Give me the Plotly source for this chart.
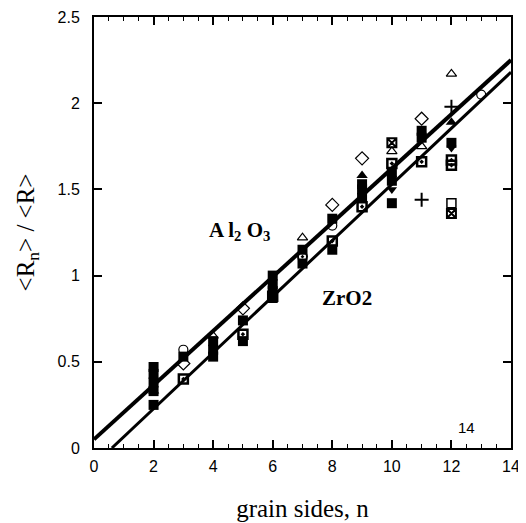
import plotly.graph_objects as go

# fitted lines (end points)
al_line_x = [0, 14]
al_line_y = [0.05, 2.25]
zr_line_x = [0.6, 14]
zr_line_y = [0.0, 2.18]

# data points grouped by marker style
filled_sq_x = [2, 2, 2, 2, 2, 3, 4, 4, 4, 5, 5, 6, 6, 6, 6, 7, 7, 8, 8, 9, 9, 9, 10, 10, 10, 11, 11, 12]
filled_sq_y = [0.25, 0.33, 0.38, 0.43, 0.47, 0.53, 0.53, 0.57, 0.62, 0.62, 0.74, 0.87, 0.91, 0.95, 1.0,
               1.07, 1.15, 1.15, 1.33, 1.45, 1.50, 1.53, 1.42, 1.55, 1.60, 1.80, 1.84, 1.77]
dot_sq_x = [3, 5, 8, 9, 10, 11, 12, 12, 6]
dot_sq_y = [0.40, 0.66, 1.20, 1.40, 1.65, 1.66, 1.64, 1.67, 0.88]
dot_circ_x = [7]
dot_circ_y = [1.11]
open_circ_x = [3, 8, 13]
open_circ_y = [0.57, 1.29, 2.05]
diamond_x = [3, 5, 8, 9, 11]
diamond_y = [0.49, 0.81, 1.41, 1.68, 1.91]
tri_open_x = [4, 7, 10, 11, 12]
tri_open_y = [0.65, 1.22, 1.72, 1.75, 2.17]
tri_fill_x = [2, 9, 12]
tri_fill_y = [0.33, 1.58, 1.89]
plus_x = [11, 12]
plus_y = [1.44, 1.98]
open_sq_x = [12]
open_sq_y = [1.42]
grid_sq_x = [10, 12]
grid_sq_y = [1.77, 1.36]
tri_down_x = [10, 12]
tri_down_y = [1.50, 1.74]

x_ticks = [0, 2, 4, 6, 8, 10, 12, 14]
y_ticks = [0, 0.5, 1, 1.5, 2, 2.5]
y_tick_labels = ["0", "0.5", "1", "1.5", "2", "2.5"]

fig = go.Figure()

fig.add_trace(go.Scatter(x=al_line_x, y=al_line_y, mode="lines",
                         line=dict(color="black", width=4), showlegend=False))
fig.add_trace(go.Scatter(x=zr_line_x, y=zr_line_y, mode="lines",
                         line=dict(color="black", width=3), showlegend=False))

def pts(x, y, symbol, size=9, lw=1.5, color="black"):
    fig.add_trace(go.Scatter(x=x, y=y, mode="markers", showlegend=False,
                             marker=dict(symbol=symbol, size=size, color=color,
                                         line=dict(color="black", width=lw))))

pts(filled_sq_x, filled_sq_y, "square", size=10, lw=0)
pts(dot_sq_x, dot_sq_y, "square-open-dot", size=9, lw=2.5)
pts(dot_circ_x, dot_circ_y, "circle-open-dot", size=9, lw=2)
pts(open_circ_x, open_circ_y, "circle-open", size=9, lw=1.2)
pts(diamond_x, diamond_y, "diamond-open", size=10, lw=1.2)
pts(tri_open_x, tri_open_y, "triangle-up-open", size=9, lw=1.2)
pts(tri_fill_x, tri_fill_y, "triangle-up", size=10, lw=0)
pts(plus_x, plus_y, "cross-thin-open", size=10, lw=2)
pts(open_sq_x, open_sq_y, "square-open", size=9, lw=1.5)
pts(grid_sq_x, grid_sq_y, "square-x-open", size=9, lw=2)
pts(tri_down_x, tri_down_y, "triangle-down", size=9, lw=0)

serif = "Liberation Serif, Times New Roman, serif"
sans = "Liberation Sans, Arial, sans-serif"

fig.add_annotation(x=4.9, y=1.26, text="<b>A l<sub>2</sub> O<sub>3</sub></b>", showarrow=False,
                   font=dict(family=serif, size=21, color="black"))
fig.add_annotation(x=8.5, y=0.87, text="<b>ZrO2</b>", showarrow=False,
                   font=dict(family=serif, size=21, color="black"))
fig.add_annotation(x=12.5, y=0.12, text="14", showarrow=False,
                   font=dict(family=sans, size=15, color="black"))

axis_common = dict(showgrid=False, zeroline=False, showline=True, linecolor="black", linewidth=2,
                   mirror="allticks", ticks="inside", tickcolor="black", tickwidth=1.5,
                   automargin=False,
                   tickfont=dict(family=sans, size=16, color="black"))

fig.update_xaxes(range=[0, 14], tickvals=x_ticks, ticklen=8, ticklabelstandoff=3,
                 minor=dict(dtick=0.5, ticks="inside", ticklen=4, tickcolor="black", tickwidth=1.2),
                 title=dict(text="grain sides, n", font=dict(family=serif, size=25, color="black"),
                            standoff=25),
                 **axis_common)
fig.update_yaxes(range=[0, 2.5], tickvals=y_ticks, ticktext=y_tick_labels, ticklen=8,
                 ticklabelstandoff=9,
                 title=dict(text="&lt;R<sub>n</sub>&gt; / &lt;R&gt;",
                            font=dict(family=serif, size=25, color="black"), standoff=16),
                 **axis_common)

# page body has an 8px margin, so the figure is 8px smaller than the window
fig.update_layout(width=518, height=515, margin=dict(l=86, r=15, t=9, b=75),
                  plot_bgcolor="white", paper_bgcolor="white")

fig.write_html("out.html")
